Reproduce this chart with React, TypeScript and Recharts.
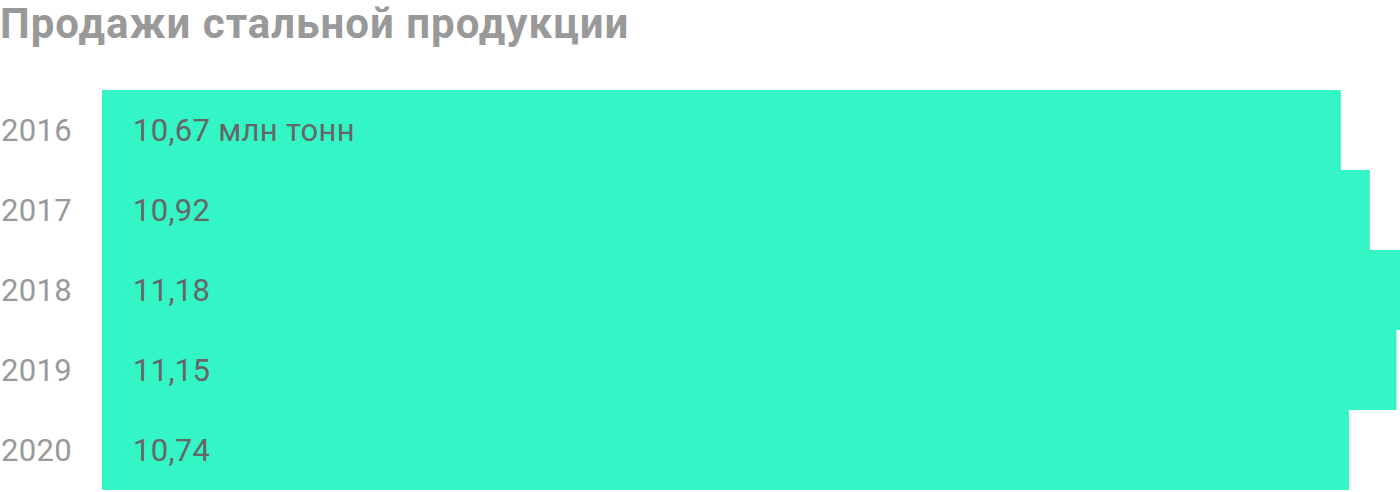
import React from 'react';
import { BarChart, Bar, XAxis, YAxis, LabelList } from 'recharts';

const title = 'Продажи стальной продукции';
const years = ['2016', '2017', '2018', '2019', '2020'];
const sales = [10.67, 10.92, 11.18, 11.15, 10.74];
const valueLabels = ['10,67 млн тонн', '10,92', '11,18', '11,15', '10,74'];

const data = years.map((y, i) => ({ year: y, value: sales[i], label: valueLabels[i] }));

const FONT = 'Roboto, "Noto Sans", sans-serif';

const YearTick = (props: any) => {
  const { y, payload } = props;
  return (
    <text x={1} y={y} dy="0.36em" fill="#999999" fontSize={31} fontFamily={FONT} textAnchor="start" letterSpacing={0.3}>
      {payload.value}
    </text>
  );
};

const ValueLabel = (props: any) => {
  const { x, y, height, index } = props;
  return (
    <text x={x + 31} y={y + height / 2} dy="0.36em" fill="#666666" fontSize={31} fontFamily={FONT} textAnchor="start" letterSpacing={0.3}>
      {valueLabels[index]}
    </text>
  );
};

export default function App() {
  return (
    <div style={{ position: 'absolute', left: 0, top: 0, width: 1400, height: 492, background: '#fff' }}>
      <div
        style={{
          position: 'absolute',
          left: 0,
          top: -1,
          fontFamily: FONT,
          fontWeight: 700,
          fontSize: 42,
          letterSpacing: 1,
          lineHeight: '50px',
          color: '#999999',
          whiteSpace: 'nowrap',
        }}
      >
        {title}
      </div>
      <div style={{ position: 'absolute', left: 0, top: 0 }}>
        <BarChart
          width={1400}
          height={492}
          data={data}
          layout="vertical"
          margin={{ top: 90, right: 0, bottom: 2, left: 0 }}
          barCategoryGap={0}
        >
          <XAxis type="number" hide domain={[0, 11.18]} />
          <YAxis
            type="category"
            dataKey="year"
            width={102}
            axisLine={false}
            tickLine={false}
            tick={<YearTick />}
            interval={0}
          />
          <Bar dataKey="value" fill="#33F5C5" isAnimationActive={false}>
            <LabelList dataKey="label" content={<ValueLabel />} />
          </Bar>
        </BarChart>
      </div>
    </div>
  );
}
